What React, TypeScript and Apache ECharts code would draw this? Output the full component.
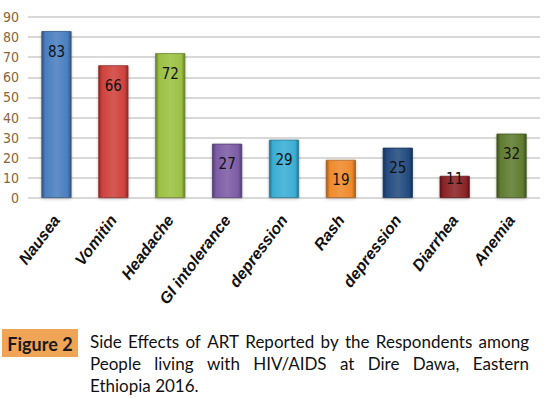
import React, { useEffect, useRef } from "react";
import * as echarts from "echarts";

const categories = ["Nausea", "Vomitin", "Headache", "GI intolerance", "depression", "Rash", "depression", "Diarrhea", "Anemia"];
const values = [83, 66, 72, 27, 29, 19, 25, 11, 32];
const barColors = ["#4a7fc1", "#cf423d", "#9cc143", "#7c5ca6", "#3aaed4", "#ef8a2c", "#244b80", "#8c2426", "#5f7c30"];
const yTicks = [0, 10, 20, 30, 40, 50, 60, 70, 80, 90];

const captionLines = [
  "Side Effects of ART Reported by the Respondents among",
  "People living with HIV/AIDS at Dire Dawa, Eastern",
  "Ethiopia 2016.",
];
const figureLabel = "Figure 2";

function shade(hex: string, f: number): string {
  const n = parseInt(hex.slice(1), 16);
  let r = (n >> 16) & 255, g = (n >> 8) & 255, b = n & 255;
  if (f < 0) {
    r = Math.round(r * (1 + f)); g = Math.round(g * (1 + f)); b = Math.round(b * (1 + f));
  } else {
    r = Math.round(r + (255 - r) * f); g = Math.round(g + (255 - g) * f); b = Math.round(b + (255 - b) * f);
  }
  return "#" + ((1 << 24) + (r << 16) + (g << 8) + b).toString(16).slice(1);
}

const CAP_FAMILY = "Lato";
const CAP_SIZE = 17;
const CAP_FONT = CAP_SIZE + "px " + CAP_FAMILY;

function captionGraphics() {
  const canvas = document.createElement("canvas");
  const ctx = canvas.getContext("2d")!;
  ctx.font = CAP_FONT;
  const x0 = 90, x1 = 529;
  const ys = [341, 363, 385];
  const els: any[] = [];
  captionLines.forEach((line, li) => {
    const words = line.split(" ");
    if (li === captionLines.length - 1) {
      els.push({ type: "text", x: x0, y: ys[li], style: { text: line, fontFamily: CAP_FAMILY, fontSize: CAP_SIZE, fill: "#111", verticalAlign: "middle" } });
      return;
    }
    const widths = words.map((w) => ctx.measureText(w).width);
    const total = widths.reduce((a, b) => a + b, 0);
    const gap = (x1 - x0 - total) / (words.length - 1);
    let x = x0;
    words.forEach((w, i) => {
      els.push({ type: "text", x, y: ys[li], style: { text: w, fontFamily: CAP_FAMILY, fontSize: CAP_SIZE, fill: "#111", verticalAlign: "middle" } });
      x += widths[i] + gap;
    });
  });
  return els;
}

export default function App() {
  const ref = useRef<HTMLDivElement>(null);
  useEffect(() => {
    const chart = echarts.init(ref.current!, undefined, { renderer: "svg" });
    const data = values.map((v, i) => {
      const c = barColors[i];
      const item: any = {
        value: v,
        itemStyle: {
          color: new echarts.graphic.LinearGradient(0, 0, 1, 0, [
            { offset: 0, color: shade(c, -0.35) },
            { offset: 0.12, color: c },
            { offset: 0.5, color: shade(c, 0.12) },
            { offset: 0.88, color: c },
            { offset: 1, color: shade(c, -0.35) },
          ]),
          borderColor: shade(c, -0.3),
          borderWidth: 0.8,
          shadowColor: "rgba(0,0,0,0.25)",
          shadowBlur: 3,
          shadowOffsetY: 1,
        },
      };
      if (v < 15) {
        item.label = { position: "insideTop", distance: 0, offset: [0, -4] };
      }
      return item;
    });
    chart.setOption({
      animation: false,
      grid: { left: 26, right: 10, top: 17, bottom: 200, containLabel: false },
      xAxis: {
        type: "category",
        data: categories,
        axisLine: { show: false },
        axisTick: { show: false },
        axisLabel: {
          interval: 0,
          rotate: 53,
          margin: 19,
          fontFamily: "Liberation Sans",
          fontWeight: "bold",
          fontStyle: "italic",
          fontSize: 16,
          color: "#111",
        },
      },
      yAxis: {
        type: "value",
        min: yTicks[0],
        max: yTicks[yTicks.length - 1],
        interval: 10,
        axisLine: { show: false },
        axisTick: { show: false },
        splitLine: { lineStyle: { color: "#d9d9d9", width: 2 } },
        axisLabel: {
          margin: 9,
          fontFamily: "'Liberation Sans Narrow', 'DejaVu Sans Condensed', sans-serif",
          fontSize: 14,
          color: "#86663c",
        },
      },
      series: [
        {
          type: "bar",
          data,
          barWidth: "53%",
          label: {
            show: true,
            position: "insideTop",
            distance: 13,
            color: "#111",
            fontFamily: "'Liberation Sans Narrow', 'DejaVu Sans Condensed', sans-serif",
            fontSize: 15,
          },
        },
      ],
      graphic: [
        { type: "rect", shape: { x: 2, y: 329, width: 76, height: 28 }, style: { fill: "#f0a455" } },
        {
          type: "text",
          x: 40,
          y: 344,
          style: { text: figureLabel, fontFamily: "Lato", fontWeight: "bold", fontSize: 18, fill: "#1a1a1a", align: "center", verticalAlign: "middle" },
        },
        ...captionGraphics(),
      ],
    });
    return () => chart.dispose();
  }, []);
  return <div ref={ref} style={{ width: 550, height: 398, position: "absolute", left: 0, top: 0 }} />;
}
